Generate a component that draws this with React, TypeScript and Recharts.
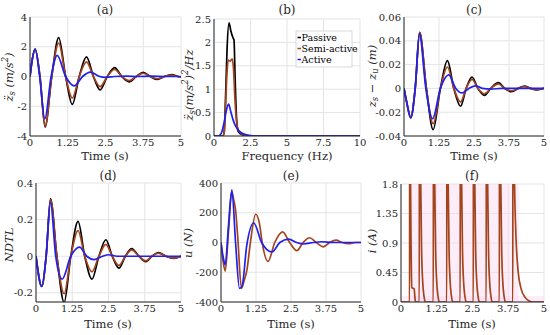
import React from 'react';
import { LineChart, Line, XAxis, YAxis, CartesianGrid, ReferenceArea } from 'recharts';

// colours of the three suspensions
const PASSIVE = '#000000';
const SEMI = '#a4441c';
const ACTIVE = '#2020ee';
const FONT = "'DejaVu Serif', serif";

const timeTicks = [0, 1.25, 2.5, 3.75, 5];
const freqTicks = [0, 2.5, 5, 7.5, 10];

// (a) sprung mass acceleration
const aTime = [0, 0.08, 0.17, 0.33, 0.5, 0.72, 0.95, 1.18, 1.4, 1.63, 1.87, 2.1, 2.32, 2.56, 2.8, 3.04, 3.28, 3.52, 3.75, 3.98, 4.22, 4.45, 4.69, 4.9, 5];
const aPassive = [0, 1.2, 1.85, 0, -3.4, 0, 2.62, 0, -1.88, 0, 1.32, 0, -0.9, 0, 0.6, 0, -0.36, 0, 0.28, 0, -0.2, 0, 0.13, 0, -0.03];
const aSemi = [0, 1.2, 1.85, 0, -3.35, 0, 2.25, 0, -1.45, 0, 0.98, 0, -0.68, 0, 0.47, 0, -0.28, 0, 0.22, 0, -0.15, 0, 0.1, 0, -0.02];
const aActiveTime = [0, 0.08, 0.17, 0.32, 0.49, 0.7, 0.9, 1.18, 1.47, 1.74, 2.0, 2.28, 2.5, 2.8, 3.2, 3.6, 4.0, 4.5, 5];
const aActive = [0, 1.2, 1.85, 0, -2.85, 0, 1.42, 0, -0.63, 0, 0.3, 0.02, -0.06, 0, 0.03, 0, 0.02, 0, 0];
const aTicks = [-4, -2, 0, 2, 4];

// (b) PSD of acceleration
const bFreqP = [0, 0.6, 0.7, 0.8, 0.9, 1.03, 1.15, 1.3, 1.37, 1.45, 1.55, 1.65, 1.9, 2.3, 10];
const bPassive = [0, 0, 0.1, 0.9, 1.9, 2.42, 2.25, 2.1, 2.05, 1.2, 0.35, 0.1, 0.03, 0, 0];
const bFreqS = [0, 0.6, 0.7, 0.8, 0.9, 0.97, 1.1, 1.25, 1.32, 1.45, 1.55, 1.7, 2.0, 2.5, 10];
const bSemi = [0, 0, 0.08, 0.7, 1.4, 1.62, 1.6, 1.65, 1.5, 0.7, 0.3, 0.1, 0.03, 0, 0];
const bFreqA = [0, 0.3, 0.5, 0.7, 0.85, 1.0, 1.15, 1.3, 1.5, 1.75, 2.0, 2.5, 3.0, 10];
const bActive = [0, 0, 0.06, 0.3, 0.55, 0.68, 0.52, 0.35, 0.2, 0.1, 0.05, 0.01, 0, 0];
const bTicks = [0, 0.5, 1, 1.5, 2, 2.5];

// (c) suspension deflection
const cTime = [0, 0.1, 0.24, 0.4, 0.56, 0.8, 1.04, 1.3, 1.55, 1.78, 2.02, 2.22, 2.43, 2.64, 2.87, 3.1, 3.37, 3.6, 3.85, 4.08, 4.3, 4.52, 4.75, 5];
const cPassive = [0, -0.012, -0.0245, 0, 0.047, 0, -0.0347, 0, 0.0234, 0, -0.015, 0, 0.0095, 0, -0.0058, 0, 0.0048, 0, -0.0028, 0, 0.002, 0, -0.0012, 0];
const cSemi = [0, -0.012, -0.0245, 0, 0.047, 0, -0.0296, 0, 0.018, 0, -0.0115, 0, 0.0075, 0, -0.0045, 0, 0.0038, 0, -0.002, 0, 0.0015, 0, -0.001, 0];
const cActiveTime = [0, 0.1, 0.24, 0.4, 0.55, 0.78, 1.02, 1.3, 1.6, 1.85, 2.08, 2.32, 2.55, 2.8, 3.1, 3.5, 5];
const cActive = [0, -0.012, -0.025, 0, 0.046, 0, -0.0255, 0, 0.0113, 0, -0.0038, 0, 0.0022, 0, -0.0006, 0, 0];
const cTicks = [-0.04, -0.02, 0, 0.02, 0.04, 0.06];

// (d) NDTL
const dTime = [0, 0.2, 0.35, 0.5, 0.72, 0.97, 1.2, 1.45, 1.68, 1.93, 2.17, 2.41, 2.63, 2.86, 3.08, 3.3, 3.55, 3.78, 4.0, 4.22, 4.48, 4.74, 5];
const dPassive = [0, -0.165, 0, 0.315, 0, -0.252, 0, 0.19, 0, -0.125, 0, 0.09, 0, -0.065, 0, 0.042, 0, -0.03, 0, 0.02, 0, -0.012, 0];
const dSemi = [0, -0.165, 0, 0.31, 0, -0.205, 0, 0.14, 0, -0.085, 0, 0.065, 0, -0.05, 0, 0.035, 0, -0.025, 0, 0.017, 0, -0.01, 0];
const dActiveTime = [0, 0.2, 0.35, 0.5, 0.68, 0.9, 1.2, 1.5, 1.75, 2.0, 2.3, 2.5, 2.8, 5];
const dActive = [0, -0.165, 0, 0.295, 0, -0.125, 0, 0.05, 0, -0.018, 0, 0.008, 0, 0];
const dTicks = [-0.2, 0, 0.2, 0.4];

// (e) control force
const eSemiTime = [0, 0.07, 0.15, 0.27, 0.38, 0.45, 0.52, 0.6, 0.73, 0.82, 0.93, 1.05, 1.24, 1.38, 1.47, 1.68, 1.92, 2.2, 2.45, 2.71, 2.93, 3.16, 3.4, 3.66, 3.88, 4.11, 4.33, 4.55, 4.8, 5];
const eSemi = [0, -120, -192, 80, 340, 290, 220, 30, -308, -260, -180, 0, 190, 120, 0, -127, 0, 72, 0, -55, 0, 32, 0, -29, 0, 16, 0, -8, 0, 0];
const eActiveTime = [0, 0.07, 0.15, 0.27, 0.39, 0.52, 0.66, 0.75, 0.92, 1.17, 1.45, 1.82, 2.1, 2.42, 2.7, 2.95, 3.3, 3.6, 4.0, 5];
const eActive = [0, -90, -150, 120, 354, 0, -308, -295, -20, 131, 0, -64, 0, 23, 0, -10, 0, 5, 0, 0];
const eTicks = [-400, -200, 0, 200, 400];

// (f) damper current
const fTime = [
  0, 0.3, 0.305, 0.335, 0.35, 0.365, 0.38, 0.46, 0.49, 0.51,
  0.64, 0.645, 0.69, 0.72, 0.76, 0.8, 0.85,
  1.13, 1.135, 1.18, 1.21, 1.25, 1.29, 1.34,
  1.6, 1.605, 1.65, 1.68, 1.72, 1.76, 1.81,
  2.07, 2.075, 2.12, 2.15, 2.19, 2.23, 2.28,
  2.53, 2.535, 2.58, 2.61, 2.65, 2.69, 2.74,
  2.98, 2.985, 3.03, 3.06, 3.1, 3.14, 3.19,
  3.44, 3.445, 3.49, 3.52, 3.56, 3.6, 3.65,
  3.91, 3.915, 3.97, 4.02, 4.1, 4.2, 4.34, 4.5, 4.6, 5,
];
const fCurrent = [
  0, 0, 4, 1.8, 0.9, 0.4, 0.22, 0.2, 0.05, 0,
  0, 4, 1.8, 0.8, 0.3, 0.1, 0,
  0, 4, 1.8, 0.8, 0.3, 0.1, 0,
  0, 4, 1.8, 0.8, 0.3, 0.1, 0,
  0, 4, 1.8, 0.8, 0.3, 0.1, 0,
  0, 4, 1.8, 0.8, 0.3, 0.1, 0,
  0, 4, 1.8, 0.8, 0.3, 0.1, 0,
  0, 4, 1.8, 0.8, 0.3, 0.1, 0,
  0, 4, 1.8, 1.0, 0.45, 0.2, 0.07, 0.01, 0, 0,
];
const fTicks = [0, 0.45, 0.9, 1.35, 1.8];

const pts = (ts: number[], vs: number[]) => ts.map((t, i) => ({ t, v: vs[i] }));

type Series = { name: string; color: string; data: { t: number; v: number }[] };
type Box = { x: number; y: number; w: number; h: number };

const tickStyle = { fontSize: 10, fill: '#262626', fontFamily: FONT, style: { fontFamily: FONT } };

const Panel = ({ box, xDomain, xTicks, yDomain, yTicks, series, children }: {
  box: Box; xDomain: number[]; xTicks: number[]; yDomain: number[]; yTicks: number[];
  series: Series[]; children?: React.ReactNode;
}) => (
  <div style={{ position: 'absolute', left: box.x - 40, top: box.y - 6, fontFamily: FONT }}>
    <LineChart width={box.w + 46} height={box.h + 26} margin={{ top: 6, right: 6, bottom: 0, left: 0 }} style={{ fontFamily: FONT }}>
      {children}
      <CartesianGrid stroke="#e4e4e4" />
      <XAxis
        type="number"
        dataKey="t"
        domain={xDomain}
        ticks={xTicks}
        interval={0}
        height={20}
        allowDataOverflow
        axisLine={{ stroke: '#262626' }}
        tickLine={false}
        tickSize={2}
        tickMargin={1}
        tick={tickStyle}
      />
      <YAxis
        type="number"
        domain={yDomain}
        ticks={yTicks}
        interval={0}
        width={40}
        allowDataOverflow
        axisLine={{ stroke: '#262626' }}
        tickLine={false}
        tickSize={2}
        tickMargin={1}
        tick={tickStyle}
      />
      {series.map((s) => (
        <Line
          key={s.name}
          data={s.data}
          dataKey="v"
          name={s.name}
          type="monotone"
          stroke={s.color}
          strokeWidth={1.7}
          dot={false}
          activeDot={false}
          isAnimationActive={false}
        />
      ))}
    </LineChart>
  </div>
);

const sub = (s: string) => <tspan fontSize={8.5} dy={3}>{s}</tspan>;

export default function App() {
  const labelProps = { fill: '#262626', textAnchor: 'middle' as const, dominantBaseline: 'central' as const, style: { fontFamily: FONT } };
  const yLabel = (x: number, y: number, content: React.ReactNode) => (
    <text x={x} y={y} transform={`rotate(-90 ${x} ${y})`} fontSize={11.5} fontStyle="italic" {...labelProps}>{content}</text>
  );

  return (
    <div style={{ position: 'absolute', left: 0, top: 0, width: 550, height: 335, background: '#fff', fontFamily: FONT }}>
      <Panel
        box={{ x: 30, y: 17, w: 151, h: 119 }}
        xDomain={[0, 5]} xTicks={timeTicks} yDomain={[-4, 4]} yTicks={aTicks}
        series={[
          { name: 'Passive', color: PASSIVE, data: pts(aTime, aPassive) },
          { name: 'Semi-active', color: SEMI, data: pts(aTime, aSemi) },
          { name: 'Active', color: ACTIVE, data: pts(aActiveTime, aActive) },
        ]}
      />
      <Panel
        box={{ x: 214, y: 19, w: 146, h: 117 }}
        xDomain={[0, 10]} xTicks={freqTicks} yDomain={[0, 2.5]} yTicks={bTicks}
        series={[
          { name: 'Passive', color: PASSIVE, data: pts(bFreqP, bPassive) },
          { name: 'Semi-active', color: SEMI, data: pts(bFreqS, bSemi) },
          { name: 'Active', color: ACTIVE, data: pts(bFreqA, bActive) },
        ]}
      />
      <Panel
        box={{ x: 404, y: 17, w: 140, h: 119 }}
        xDomain={[0, 5]} xTicks={timeTicks} yDomain={[-0.04, 0.06]} yTicks={cTicks}
        series={[
          { name: 'Passive', color: PASSIVE, data: pts(cTime, cPassive) },
          { name: 'Semi-active', color: SEMI, data: pts(cTime, cSemi) },
          { name: 'Active', color: ACTIVE, data: pts(cActiveTime, cActive) },
        ]}
      />
      <Panel
        box={{ x: 36, y: 183, w: 145, h: 119 }}
        xDomain={[0, 5]} xTicks={timeTicks} yDomain={[-0.25, 0.4]} yTicks={dTicks}
        series={[
          { name: 'Passive', color: PASSIVE, data: pts(dTime, dPassive) },
          { name: 'Semi-active', color: SEMI, data: pts(dTime, dSemi) },
          { name: 'Active', color: ACTIVE, data: pts(dActiveTime, dActive) },
        ]}
      />
      <Panel
        box={{ x: 221, y: 183, w: 140, h: 119 }}
        xDomain={[0, 5]} xTicks={timeTicks} yDomain={[-400, 400]} yTicks={eTicks}
        series={[
          { name: 'Semi-active', color: SEMI, data: pts(eSemiTime, eSemi) },
          { name: 'Active', color: ACTIVE, data: pts(eActiveTime, eActive) },
        ]}
      />
      <Panel
        box={{ x: 401, y: 184, w: 143, h: 118 }}
        xDomain={[0, 5]} xTicks={timeTicks} yDomain={[0, 1.8]} yTicks={fTicks}
        series={[{ name: 'Semi-active', color: SEMI, data: pts(fTime, fCurrent) }]}
      >
        <ReferenceArea x1={0.28} x2={4.12} y1={0} y2={1.8} fill="#fcdcf3" fillOpacity={0.5} stroke="none" />
        <ReferenceArea x1={0} x2={5} y1={0} y2={0.09} fill="#fcdcf3" fillOpacity={0.5} stroke="none" />
      </Panel>

      <svg width={550} height={335} style={{ position: 'absolute', left: 0, top: 0, pointerEvents: 'none', fontFamily: FONT }}>
        {/* titles */}
        <text x={105} y={10} fontSize={12} {...labelProps}>(a)</text>
        <text x={287} y={10} fontSize={12} {...labelProps}>(b)</text>
        <text x={474} y={10} fontSize={12} {...labelProps}>(c)</text>
        <text x={108} y={176} fontSize={12} {...labelProps}>(d)</text>
        <text x={291} y={176} fontSize={12} {...labelProps}>(e)</text>
        <text x={472} y={176} fontSize={12} {...labelProps}>(f)</text>

        {/* x labels */}
        <text x={105} y={156} fontSize={11.5} {...labelProps}>Time (s)</text>
        <text x={287} y={156} fontSize={11.5} {...labelProps}>Frequency (Hz)</text>
        <text x={474} y={156} fontSize={11.5} {...labelProps}>Time (s)</text>
        <text x={108} y={324} fontSize={11.5} {...labelProps}>Time (s)</text>
        <text x={291} y={324} fontSize={11.5} {...labelProps}>Time (s)</text>
        <text x={472} y={324} fontSize={11.5} {...labelProps}>Time (s)</text>

        {/* y labels */}
        {yLabel(9, 77, <>{'z\u0308'}{sub('s')}<tspan dy={-3}> (m/s</tspan><tspan fontSize={8.5} dy={-4}>2</tspan><tspan dy={4}>)</tspan></>)}
        {yLabel(189, 85, <>{'z\u0308'}{sub('s')}<tspan dy={-3}>(m/s</tspan><tspan fontSize={8.5} dy={-4}>2</tspan><tspan dy={4}>)</tspan><tspan fontSize={8.5} dy={-4}>2</tspan><tspan dy={4}>/Hz</tspan></>)}
        {yLabel(372, 76, <>z{sub('s')}<tspan dy={-3}> − z</tspan>{sub('u')}<tspan dy={-3}> (m)</tspan></>)}
        {yLabel(9, 245, <>NDTL</>)}
        {yLabel(188, 243, <>u (N)</>)}
        {yLabel(372, 241, <>i (A)</>)}

        {/* legend of (b) */}
        <rect x={296} y={31} width={56} height={36} fill="#fff" stroke="#cfcfcf" strokeWidth={0.8} />
        {[
          { name: 'Passive', color: PASSIVE, y: 37.5 },
          { name: 'Semi-active', color: SEMI, y: 48.5 },
          { name: 'Active', color: ACTIVE, y: 59.5 },
        ].map((it) => (
          <g key={it.name}>
            <line x1={297.5} x2={301} y1={it.y} y2={it.y} stroke={it.color} strokeWidth={1.5} />
            <text x={301.5} y={it.y} fontSize={9.5} fill="#000" dominantBaseline="central" style={{ fontFamily: FONT }}>{it.name}</text>
          </g>
        ))}
      </svg>
    </div>
  );
}
